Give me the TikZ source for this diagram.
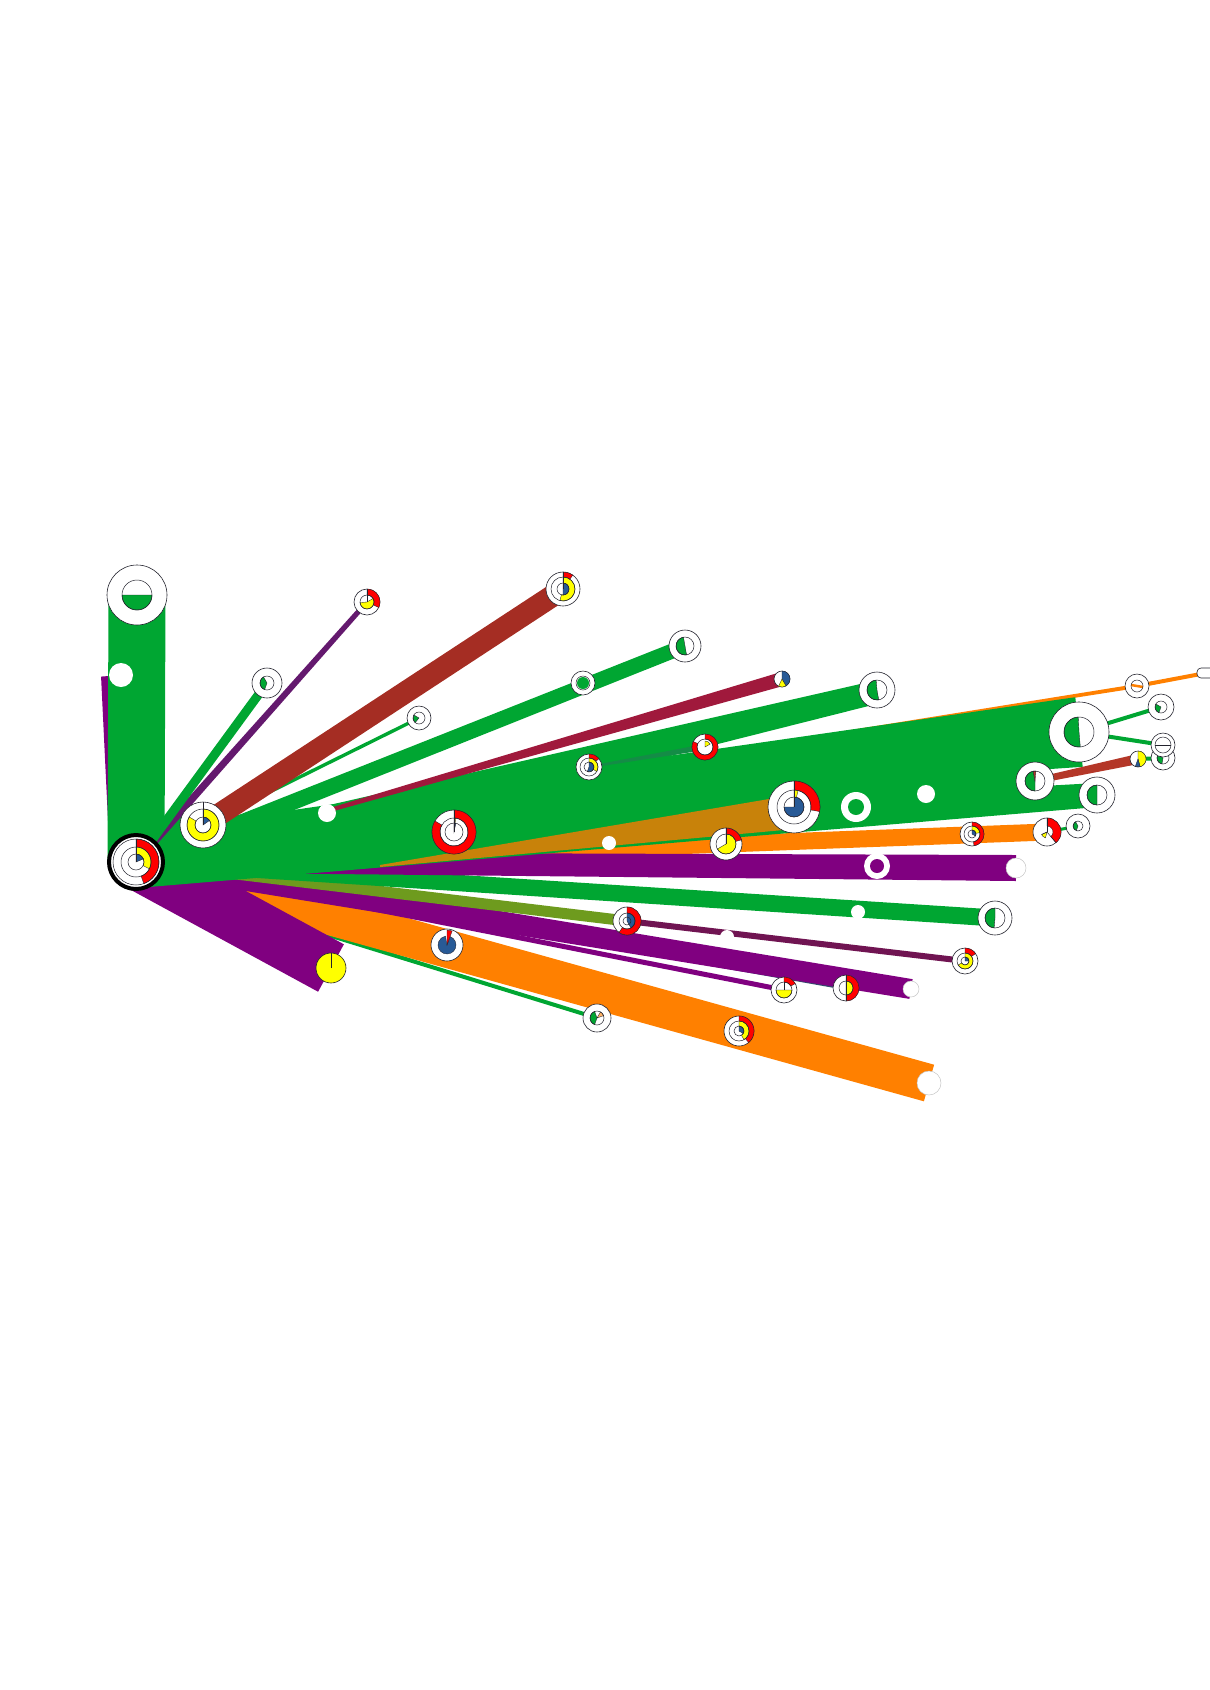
\documentclass[tikz,border=0pt]{standalone}
\usetikzlibrary{calc}
\definecolor{gr}{RGB}{0,166,50}
\definecolor{pu}{RGB}{128,0,128}
\definecolor{orr}{RGB}{255,128,0}
\definecolor{br}{RGB}{165,45,35}
\definecolor{brr}{RGB}{180,55,40}
\definecolor{ma}{RGB}{160,25,60}
\definecolor{olv}{RGB}{110,155,30}
\definecolor{dp}{RGB}{100,25,110}
\definecolor{mg}{RGB}{112,20,82}
\definecolor{ob}{RGB}{200,130,10}
\definecolor{sl}{RGB}{50,75,110}
\definecolor{dg}{RGB}{20,140,70}
\definecolor{yel}{RGB}{255,255,0}
\definecolor{rd}{RGB}{255,0,0}
\definecolor{bl}{RGB}{40,90,150}
\definecolor{ln}{RGB}{35,35,45}
\tikzset{
  glyphline/.style={draw=ln,line width=0.5pt},
  wedgeline/.style={draw=ln,line width=0.35pt},
  nodedisk/.style={fill=white,draw=ln,line width=0.6pt},
  lightdisk/.style={fill=white,draw=gray!45,line width=0.5pt}
}
\newcommand\myband[5]{\fill[#1] ($(#2)!#4!90:(#3)$) -- ($(#3)!#5!-90:(#2)$) -- ($(#3)!#5!90:(#2)$) -- ($(#2)!#4!-90:(#3)$) -- cycle;}
\newcommand\mysect[6]{\filldraw[fill=#6,wedgeline] ([shift={({90-#4}:#3)}]#1) arc[start angle={90-#4},end angle={90-#5},radius=#3] -- ([shift={({90-#5}:#2)}]#1) arc[start angle={90-#5},end angle={90-#4},radius=#2] -- cycle;}
\newcommand\mypie[5]{\filldraw[fill=#5,wedgeline] (#1) -- ([shift={({90-#3}:#2)}]#1) arc[start angle={90-#3},end angle={90-#4},radius=#2] -- cycle;}
\newcommand\wdisk[2]{\filldraw[nodedisk] (#1) circle[radius=#2];}
\newcommand\wdiskL[2]{\filldraw[lightdisk] (#1) circle[radius=#2];}
\newcommand\wdiskN[2]{\fill[white] (#1) circle[radius=#2];}
\newcommand\myring[2]{\draw[glyphline] (#1) circle[radius=#2];}
\newcommand\myrad[3]{\draw[glyphline] (#1) -- ([shift={({90-#3}:#2)}]#1);}
\begin{document}
\begin{tikzpicture}[x=1pt,y=1pt]
\useasboundingbox (0,0) rectangle (1210,-1690);
% ---- node centres
\coordinate (R) at (136,-862);
\coordinate (Ro) at (136,-866);
\coordinate (N1) at (137,-595);
\coordinate (N2) at (121,-675);
\coordinate (N3) at (203,-825);
\coordinate (N4) at (267,-683);
\coordinate (N5) at (367,-602);
\coordinate (N6) at (563,-589);
\coordinate (N7) at (419,-718);
\coordinate (N8) at (327,-813);
\coordinate (N9) at (454,-832);
\coordinate (N10) at (583,-683);
\coordinate (N11) at (685,-646);
\coordinate (N12) at (782,-679);
\coordinate (N13) at (877,-690);
\coordinate (N13b) at (877,-692);
\coordinate (N14) at (705,-747);
\coordinate (N15) at (589,-767);
\coordinate (N16) at (794,-807);
\coordinate (N16b) at (794,-812);
\coordinate (N17) at (856,-807);
\coordinate (N18) at (926,-794);
\coordinate (N19) at (609,-843);
\coordinate (N20) at (726,-844);
\coordinate (N21) at (877,-866);
\coordinate (N22) at (1016,-868);
\coordinate (N23) at (972,-834);
\coordinate (N24) at (1047,-832);
\coordinate (N25) at (1078,-826);
\coordinate (N26) at (1035,-781);
\coordinate (N27) at (1097,-795);
\coordinate (N28) at (1079,-732);
\coordinate (N29) at (1137,-686);
\coordinate (N30) at (1161,-707);
\coordinate (N31) at (1163,-745);
\coordinate (N32) at (1163,-758);
\coordinate (N33) at (1138,-759);
\coordinate (N34) at (1206,-673);
\coordinate (N36) at (858,-912);
\coordinate (N37) at (995,-918);
\coordinate (N38) at (965,-961);
\coordinate (N39) at (627,-921);
\coordinate (N40) at (727,-937);
\coordinate (N41) at (784,-990);
\coordinate (N42) at (846,-988);
\coordinate (N43) at (911,-989);
\coordinate (N44) at (447,-945);
\coordinate (N45) at (597,-1018);
\coordinate (N46) at (739,-1031);
\coordinate (N47) at (929,-1083);
\coordinate (N48) at (331,-968);
% band start points
\coordinate (S45) at (150,-880);
\coordinate (S877) at (327,-824);
\coordinate (S685) at (210,-835);
\coordinate (Sob) at (380,-866);
\coordinate (Sma) at (330,-810);
\coordinate (Sol) at (305,-818);
% ---- bands (bottom layer first)
\myband{gr}{S45}{N45}{2pt}{2pt}
\myband{orr}{R}{N47}{19pt}{19pt}
\myband{pu}{R}{N48}{27pt}{27pt}
\myband{sl}{R}{N42}{2pt}{2pt}
\myband{pu}{R}{N41}{2.5pt}{2.5pt}
\myband{pu}{R}{N43}{11pt}{10pt}
\myband{olv}{R}{N39}{5.5pt}{5.5pt}
\myband{mg}{N39}{N38}{3pt}{3pt}
\myband{gr}{R}{N37}{8pt}{8.5pt}
\myband{orr}{Ro}{N24}{8.5pt}{8.5pt}
\myband{pu}{R}{N22}{10pt}{13pt}
\myband{orr}{Sol}{N29}{0.3pt}{2pt}
\myband{orr}{N29}{N34}{2pt}{2pt}
\myband{pu}{R}{N2}{26pt}{20pt}
\myband{gr}{R}{N1}{28.5pt}{28.5pt}
\myband{gr}{R}{N27}{26pt}{12pt}
\myband{gr}{N3}{N26}{8pt}{15pt}
\myband{gr}{N3}{N28}{2pt}{35pt}
\myband{gr}{S877}{N13b}{18pt}{11.5pt}
\myband{gr}{S685}{N11}{8pt}{7.5pt}
\myband{gr}{N3}{N7}{1.7pt}{1.7pt}
\myband{gr}{R}{N3}{25pt}{25pt}
\myband{ob}{Sob}{N16b}{1pt}{17pt}
\myband{ma}{Sma}{N12}{2pt}{7pt}
\myband{br}{N3}{N6}{11pt}{11pt}
\myband{dp}{R}{N5}{4pt}{2.5pt}
\myband{gr}{R}{N4}{4.5pt}{4.5pt}
\myband{dg}{N15}{N14}{1pt}{3pt}
\myband{gr}{N28}{N30}{2pt}{2pt}
\myband{gr}{N28}{N31}{2pt}{2pt}
\myband{brr}{N26}{N33}{3pt}{5pt}
\myband{gr}{N33}{N32}{2pt}{2pt}
\myband{gr}{N24}{N25}{1.5pt}{1.5pt}
% ---- node glyphs
% root
\fill[white] (R) circle[radius=27];
\mysect{R}{15}{23}{0}{160}{rd}
\mysect{R}{8}{15}{0}{117}{yel}
\mypie{R}{8}{0}{67}{bl}
\myring{R}{23}\myring{R}{15}\myring{R}{8}
\myrad{R}{23}{0}
\draw[black,line width=4pt] (R) circle[radius=27];
% N1
\wdisk{N1}{30}
\mypie{N1}{15}{90}{270}{gr}
\myring{N1}{15}
\wdiskN{N2}{12}
% N3
\wdisk{N3}{23}
\mysect{N3}{8}{16}{0}{300}{yel}
\mypie{N3}{8}{0}{55}{bl}
\myring{N3}{16}\myring{N3}{8}
\myrad{N3}{23}{0}
% N4
\wdisk{N4}{15}
\mypie{N4}{7}{200}{330}{gr}
\myring{N4}{7}
% N5
\wdisk{N5}{13}
\mysect{N5}{7}{13}{0}{115}{rd}
\mypie{N5}{7}{60}{265}{yel}
\myring{N5}{7}
\myrad{N5}{13}{0}
% N6
\wdisk{N6}{17}
\mysect{N6}{12}{17}{0}{35}{rd}
\mysect{N6}{6}{12}{0}{195}{yel}
\mypie{N6}{6}{0}{180}{bl}
\myring{N6}{12}\myring{N6}{6}
\myrad{N6}{17}{0}
% N7
\wdisk{N7}{12}
\mypie{N7}{6}{220}{300}{gr}
\myring{N7}{6}
\wdiskN{N8}{9}
% N9
\wdisk{N9}{22}
\mysect{N9}{14}{22}{0}{300}{rd}
\mypie{N9}{14}{0}{7}{yel}
\mypie{N9}{9}{0}{12}{bl}
\myring{N9}{14}\myring{N9}{9}
\myrad{N9}{22}{0}
% N10
\wdisk{N10}{12}
\fill[gr] (N10) circle[radius=6];
\myring{N10}{7}
% N11
\wdisk{N11}{16}
\mypie{N11}{9}{170}{350}{gr}
\myring{N11}{9}
% N12
\wdisk{N12}{8}
\mypie{N12}{8}{0}{150}{bl}
\mypie{N12}{8}{150}{205}{yel}
% N13
\wdisk{N13}{18}
\mypie{N13}{10}{170}{355}{gr}
\myring{N13}{10}
% N14
\wdisk{N14}{13}
\mysect{N14}{8}{13}{0}{295}{rd}
\mypie{N14}{6}{0}{60}{yel}
\myring{N14}{8}
% N15
\wdisk{N15}{13}
\mysect{N15}{9}{13}{0}{50}{rd}
\mysect{N15}{5}{9}{0}{120}{yel}
\mypie{N15}{5}{0}{200}{bl}
\myring{N15}{9}\myring{N15}{5}
% N16
\wdisk{N16}{26}
\mysect{N16}{17}{26}{0}{100}{rd}
\mysect{N16}{10}{17}{0}{14}{yel}
\mypie{N16}{10}{0}{270}{bl}
\myring{N16}{17}\myring{N16}{10}
\myrad{N16}{26}{0}
% N17 - N19
\wdiskN{N17}{15}
\fill[gr] (N17) circle[radius=8];
\wdiskN{N18}{9}
\wdiskN{N19}{7}
% N20
\wdisk{N20}{16}
\mysect{N20}{10}{16}{0}{75}{rd}
\mypie{N20}{10}{0}{240}{yel}
\myring{N20}{10}
\myrad{N20}{16}{0}
% N21, N22
\wdiskN{N21}{13}
\fill[pu] (N21) circle[radius=7];
\wdiskL{N22}{10}
% N23
\wdisk{N23}{12}
\mysect{N23}{8}{12}{0}{170}{rd}
\mysect{N23}{4}{8}{0}{80}{yel}
\mypie{N23}{4}{0}{120}{bl}
\myring{N23}{8}\myring{N23}{4}
% N24
\wdisk{N24}{14}
\mysect{N24}{6}{14}{0}{140}{rd}
\mypie{N24}{6}{195}{245}{yel}
\myrad{N24}{14}{0}\myrad{N24}{14}{140}\myrad{N24}{6}{245}
% N25
\wdisk{N25}{12}
\mypie{N25}{5}{200}{330}{gr}
\myring{N25}{5}
% N26
\wdisk{N26}{19}
\mypie{N26}{10}{180}{350}{gr}
\mypie{N26}{10}{350}{365}{brr}
\myring{N26}{10}
% N27
\wdisk{N27}{18}
\mypie{N27}{10}{180}{360}{gr}
\myring{N27}{10}
% N28
\wdisk{N28}{30}
\mypie{N28}{15}{175}{357}{gr}
\myring{N28}{15}
% N29
\wdisk{N29}{12}
\draw[orr,line width=2.5pt] ([shift={(-6,1)}]N29) -- ([shift={(6,-1)}]N29);
\myring{N29}{6}
% N30
\wdisk{N30}{13}
\mypie{N30}{6}{200}{300}{gr}
\myring{N30}{6}
% N32, N31
\wdisk{N32}{12}
\mypie{N32}{6}{190}{300}{gr}
\myring{N32}{6}
\wdisk{N31}{12}
\myring{N31}{8}
\draw[glyphline] ([shift={(-8,0)}]N31) -- ([shift={(8,0)}]N31);
% N33
\wdisk{N33}{8}
\mypie{N33}{8}{0}{165}{yel}
\mypie{N33}{8}{165}{200}{bl}
% N34 (cut by the page edge)
\filldraw[nodedisk,rounded corners=4pt] ([shift={(-9,5)}]N34) rectangle ([shift={(12,-5)}]N34);
% N36 - N37
\wdiskN{N36}{7}
\wdisk{N37}{17}
\mypie{N37}{10}{185}{360}{gr}
\myring{N37}{10}
% N38
\wdisk{N38}{13}
\mysect{N38}{8}{13}{0}{55}{rd}
\mysect{N38}{4}{8}{0}{240}{yel}
\mypie{N38}{4}{0}{90}{bl}
\myring{N38}{8}\myring{N38}{4}
% N39
\wdisk{N39}{14}
\mysect{N39}{8}{14}{0}{215}{rd}
\mypie{N39}{8}{0}{150}{bl}
\myring{N39}{8}\myring{N39}{4}
\wdiskN{N40}{7}
% N41
\wdisk{N41}{13}
\mysect{N41}{8}{13}{0}{60}{rd}
\mypie{N41}{8}{90}{270}{yel}
\myring{N41}{8}
\myrad{N41}{8}{0}
% N42
\wdisk{N42}{13}
\mysect{N42}{7}{13}{0}{180}{rd}
\mypie{N42}{7}{0}{180}{yel}
\myring{N42}{7}
\myrad{N42}{13}{0}\myrad{N42}{13}{180}
\wdiskL{N43}{8}
% N44
\wdisk{N44}{16}
\mypie{N44}{9}{20}{350}{bl}
\mypie{N44}{15}{0}{20}{rd}
% N45
\wdisk{N45}{14}
\mypie{N45}{7}{200}{340}{gr}
\mypie{N45}{7}{30}{70}{orr!60}
\myring{N45}{7}
% N46
\wdisk{N46}{15}
\mysect{N46}{10}{15}{0}{140}{rd}
\mysect{N46}{5}{10}{0}{150}{yel}
\mypie{N46}{5}{0}{120}{bl}
\myring{N46}{10}\myring{N46}{5}
\wdiskL{N47}{12}
% N48
\filldraw[fill=yel,draw=ln,line width=0.6pt] (N48) circle[radius=15];
\myrad{N48}{15}{0}
\end{tikzpicture}
\end{document}
